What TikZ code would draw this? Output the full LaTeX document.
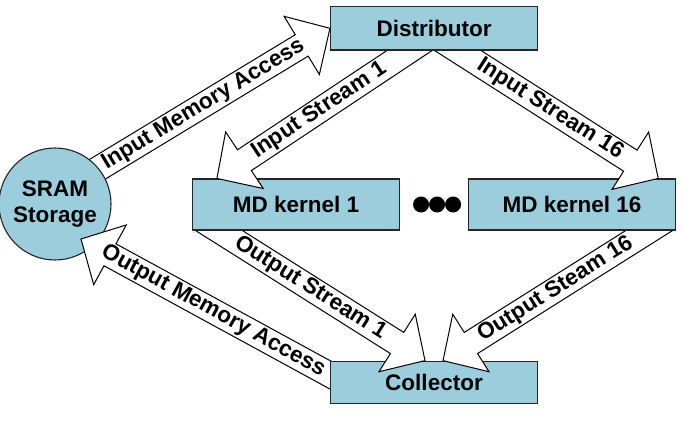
\documentclass[tikz,border=0pt]{standalone}
\usepackage{fontspec}
\setmainfont{Liberation Sans}
\usetikzlibrary{positioning, calc}

\definecolor{boxblue}{RGB}{155,205,221}

\pgfdeclarelayer{memin}
\pgfdeclarelayer{storage}
\pgfdeclarelayer{memout}
\pgfdeclarelayer{collect}
\pgfdeclarelayer{streamout}
\pgfdeclarelayer{kernels}
\pgfdeclarelayer{streamin}
\pgfsetlayers{memin,storage,memout,collect,streamout,kernels,streamin,main}

% block arrow: #1 tail, #2 tip, #3 label pos, #4 label
\newcommand{\blockarrow}[4]{%
  \draw[bigarrow] let \p1=(#1), \p2=(#2), \n1={atan2(\y2-\y1,\x2-\x1)} in
    ($(\p1)+({\n1+90}:12.5pt)$)
    -- ($(\p2)+({\n1+180}:33pt)+({\n1+90}:12.5pt)$)
    -- ($(\p2)+({\n1+180}:33pt)+({\n1+90}:34pt)$)
    -- (\p2)
    -- ($(\p2)+({\n1+180}:33pt)+({\n1-90}:34pt)$)
    -- ($(\p2)+({\n1+180}:33pt)+({\n1-90}:12.5pt)$)
    -- ($(\p1)+({\n1-90}:12.5pt)$) -- cycle;
  \path (#1) -- node[arrowtext, pos=#3] {#4} (#2);
}

\begin{document}
\begin{tikzpicture}[
    x=1pt, y=1pt,
    block/.style={rectangle, draw=black!85, line width=1.1pt, fill=boxblue, minimum width=207pt, align=center, font=\bfseries\fontsize{22.5}{26}\selectfont},
    store/.style={circle, draw=black!85, line width=1.1pt, fill=boxblue, minimum size=112pt, inner sep=0pt, align=center, font=\bfseries\fontsize{22.5}{26.5}\selectfont},
    bigarrow/.style={draw=black, line width=1pt, fill=white, line join=miter},
    arrowtext/.style={sloped, inner sep=0pt, font=\bfseries\fontsize{22.5}{26}\selectfont}
]
    \useasboundingbox (0,0) rectangle (684,423);

    \begin{pgfonlayer}{storage}
    \node[store] (sram) at (55,219) {SRAM\\Storage};
    \end{pgfonlayer}
    \node[block, minimum height=43.5pt] (dist) at (434,394.7) {Distributor};
    \begin{pgfonlayer}{collect}
    \node[block, minimum height=42pt, below=310pt of dist] (coll) {Collector};
    \end{pgfonlayer}
    \begin{pgfonlayer}{kernels}
    \node[block, minimum height=51pt] (k1) at (296,218.5) {MD kernel 1};
    \node[block, minimum height=51pt, right=68pt of k1] (k16) {MD kernel 16};
    \end{pgfonlayer}
    \coordinate (dots) at ([xshift=3pt]$(k1.east)!0.5!(k16.west)$);
    \foreach \dx in {-16,0,16}
        \fill ([xshift=\dx pt]dots) circle (8pt);

    \begin{pgfonlayer}{memin}
    \blockarrow{[yshift=9pt]sram.center}{dist.west}{0.54}{Input Memory Access}
    \end{pgfonlayer}
    \begin{pgfonlayer}{streamin}
    \blockarrow{[xshift=9pt]dist.center}{[xshift=25pt]k1.north west}{0.547}{Input Stream 1}
    \blockarrow{[xshift=-11pt]dist.center}{[xshift=-18pt]k16.north east}{0.54}{Input Stream 16}
    \end{pgfonlayer}
    \begin{pgfonlayer}{streamout}
    \blockarrow{[xshift=8pt,yshift=12pt]k1.south west}{[xshift=-9pt]coll.north}{0.49}{Output Stream 1}
    \blockarrow{[xshift=-8pt,yshift=12pt]k16.south east}{[xshift=9pt]coll.north}{0.5}{Output Steam 16}
    \end{pgfonlayer}
    \begin{pgfonlayer}{memout}
    \blockarrow{[xshift=19pt,yshift=-3pt]coll.west}{[xshift=26pt,yshift=-35pt]sram.center}{0.507}{Output Memory Access}
    \end{pgfonlayer}
\end{tikzpicture}
\end{document}
